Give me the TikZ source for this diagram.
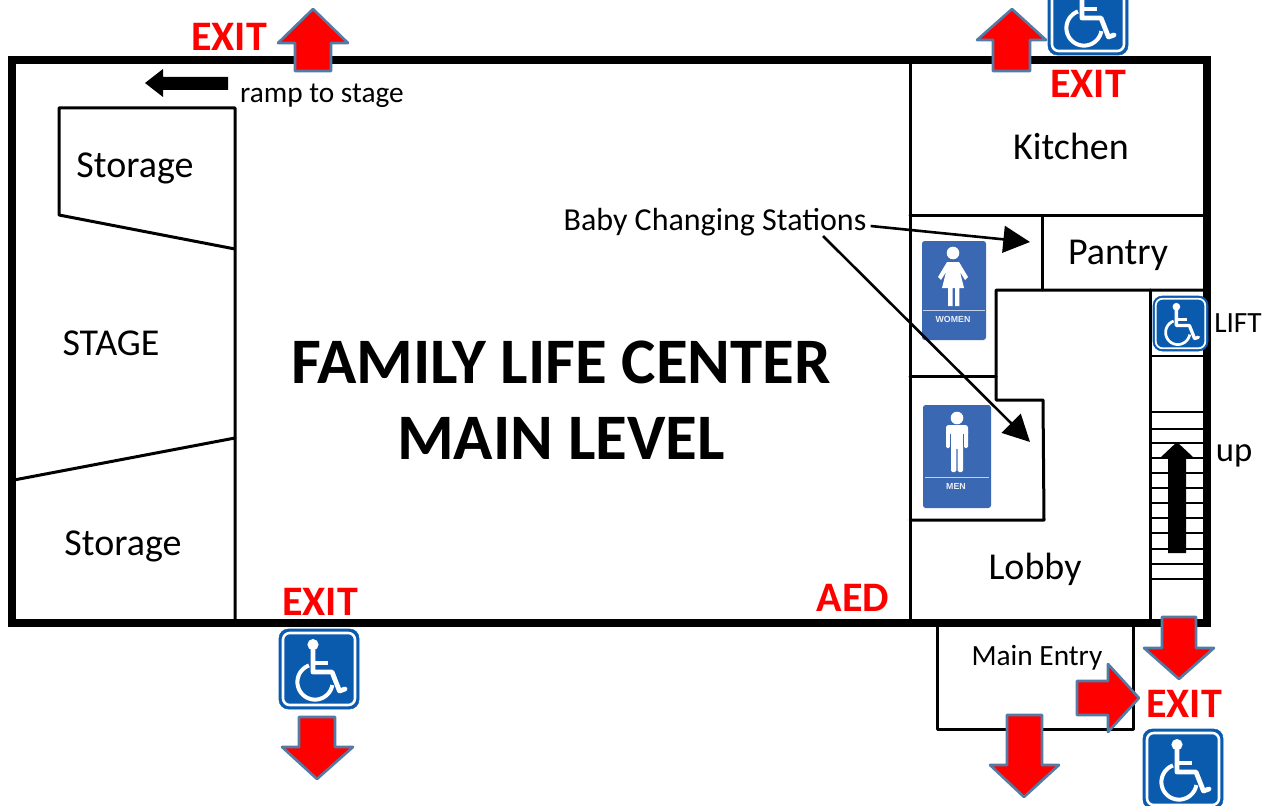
\documentclass[tikz,border=0pt]{standalone}
\usepackage{fontspec}
\setmainfont{Carlito}
\newfontfamily\signfont{Liberation Sans}
\usetikzlibrary{arrows.meta}
\definecolor{iconblue}{HTML}{0A5AAE}
\definecolor{signblue}{HTML}{3A68B2}
\definecolor{exitedge}{HTML}{527CA6}
\tikzset{
  wall/.style={draw=black,line width=8*0.75pt,line join=miter},
  inner/.style={draw=black,line width=3*0.75pt,line cap=round,line join=round},
  tread/.style={draw=black,line width=2.6*0.75pt},
  exitarrow/.style={fill=red,draw=exitedge,line width=2.6*0.75pt,line join=round},
  lbl/.style={inner sep=0pt,text=black,font=\fontsize{28.5}{32}\selectfont},
  small/.style={inner sep=0pt,text=black,font=\fontsize{22}{26}\selectfont},
  exitlbl/.style={inner sep=0pt,text=red,font=\fontsize{31.5}{36}\selectfont\bfseries},
  titlelbl/.style={inner sep=0pt,text=black,font=\fontsize{48.7}{54}\selectfont\bfseries},
  callout/.style={draw=black,line width=2.6*0.75pt,-{Triangle[length=20pt,width=20pt]}},
  signtxt/.style={inner sep=0pt,text=white!90!signblue,font=\fontsize{6.6}{8}\selectfont\signfont\bfseries},
}
% #1 left, #2 top, #3 size in px
\newcommand\wheelicon[3]{%
  \pgfmathsetmacro\wk{#3/80}%
  \begin{scope}[shift={(#1,#2)},scale=\wk]
    \fill[iconblue,draw=iconblue] (0,0) [rounded corners=7] rectangle (80,80);
    \draw[white,line width=\wk*1.9pt,rounded corners=5] (4,4) rectangle (76,76);
    \fill[white] (34,15.6) circle[radius=5.6];
    \draw[white,line width=\wk*3.6pt,line join=round,line cap=round]
      (34,16) -- (34,43) -- (53,43) -- (60.5,62) -- (66,60);
    \draw[white,line width=\wk*3.6pt] (34,34) -- (49,34);
    \draw[white,line width=\wk*3pt] plot[domain=110:350,samples=40,smooth] ({36+17.6*cos(\x)},{53-17.6*sin(\x)});
  \end{scope}}
\begin{document}
\begin{tikzpicture}[x=0.75pt,y=-0.75pt]
\useasboundingbox (0,0) rectangle (1278,806);
\clip (0,0) rectangle (1278,806);
% walls
\draw[wall] (12,60) rectangle (1207,623);
\draw[inner] (910,60) -- (910,622);
\draw[inner] (235,622) -- (235,108) -- (59,108) -- (59,215) -- (235,249);
\draw[inner] (14,480) -- (235,438);
\draw[inner] (910,216) -- (1205,216);
\draw[inner] (1042,216) -- (1042,290);
\draw[inner] (1205,290) -- (996,290) -- (996,400) -- (1043,400) -- (1044,520) -- (910,520);
\draw[inner] (910,376) -- (996,376);
\draw[inner] (1150,290) -- (1150,622);
\draw[inner] (937,626) -- (937,729) -- (1133,729) -- (1133,626);
\foreach \yy in {356,412,429,443,458,473,488,503,518,533,549,564,579}
  \draw[tread] (1150,\yy) -- (1205,\yy);
% black arrows
\fill[black] (1177,442) -- (1193,457) -- (1186,457) -- (1186,553) -- (1168,553) -- (1168,457) -- (1161,457) -- cycle;
\fill[black] (145,83) -- (163,69) -- (163,77) -- (228,77) -- (228,90) -- (163,90) -- (163,97) -- cycle;
% restroom signs
\fill[signblue,rounded corners=2] (922,241) rectangle (986,340);
\fill[white] (953,253) circle[radius=6.3];
\fill[white,line join=round] (947,262) -- (959,262) -- (968,277) -- (965,280) -- (960,272) -- (964,288) -- (959.3,288) -- (959.3,306) -- (955,306) -- (955,288) -- (952.5,288) -- (952.5,306) -- (948,306) -- (948,288) -- (942,288) -- (946,272) -- (941,280) -- (938,277) -- cycle;
\draw[white!70!signblue,line width=0.6pt] (923,310) -- (985,310);
\node[signtxt] (women) at (953,319) {WOMEN};
\fill[signblue,rounded corners=2] (923,405) rectangle (991,508);
\fill[white] (957,418) circle[radius=6.3];
\fill[white,rounded corners=2] (946,425) rectangle (968,436);
\fill[white] (950,428) rectangle (964,449);
\fill[white,rounded corners=1] (946,430) rectangle (950,448);
\fill[white,rounded corners=1] (964,430) rectangle (968,448);
\fill[white!0!signblue] (950,434) rectangle (951,449);
\fill[white!0!signblue] (963,434) rectangle (964,449);
\fill[white,rounded corners=1] (951,445) rectangle (956.3,472);
\fill[white,rounded corners=1] (957.7,445) rectangle (963,472);
\draw[white!70!signblue,line width=0.6pt] (925,477) -- (989,477);
\node[signtxt] (men) at (956,486) {MEN};
% labels
\node[lbl] (storage1) at (135,168) {Storage};
\node[lbl] (stage) at (111,343) {STAGE};
\node[lbl] (storage2) at (123,546) {Storage};
\node[lbl] (kitchen) at (1071,146) {Kitchen};
\node[lbl] (pantry) at (1118,255) {Pantry};
\node[lbl] (lobby) at (1035,569) {Lobby};
\node[small] (ramp) at (322,96) {ramp to stage};
\node[small] (entry) at (1037,658) {Main Entry};
\node[small] (lift) at (1238,323) {LIFT};
\node[lbl,font=\fontsize{26}{30}\selectfont] (up) at (1234,456) {up};
\node[titlelbl] (t1) at (561,362) {FAMILY LIFE CENTER};
\node[titlelbl] (t2) at (561,438) {MAIN LEVEL};
\node[exitlbl] (aed) at (853,598) {AED};
\node[exitlbl] (e1) at (229,37) {EXIT};
\node[exitlbl] (e2) at (1088,84) {EXIT};
\node[exitlbl] (e3) at (320,602) {EXIT};
\node[exitlbl] (e4) at (1184,704) {EXIT};
\node[small,font=\fontsize{24}{28}\selectfont] (baby) at (715,222) {Baby Changing Stations};
% callouts
\coordinate (womenend) at (1030,242);
\coordinate (menend) at (1030,442);
\coordinate (babyb) at (823,236);
\draw[callout] (baby.east) ++(4,4) -- (womenend);
\draw[callout] (babyb) -- (menend);
% exit arrows
\draw[exitarrow] (313,9) -- (348,43) -- (331,43) -- (331,71) -- (295,71) -- (295,43) -- (278,43) -- cycle;
\draw[exitarrow] (1012,9) -- (1046,40) -- (1030,40) -- (1030,71) -- (993,71) -- (993,40) -- (977,40) -- cycle;
\draw[exitarrow] (317,779) -- (353,747) -- (335,747) -- (335,717) -- (299,717) -- (299,747) -- (282,747) -- cycle;
\draw[exitarrow] (1179,679) -- (1214,648) -- (1196,648) -- (1196,617) -- (1162,617) -- (1162,648) -- (1144,648) -- cycle;
\draw[exitarrow] (1139,698) -- (1108,664) -- (1108,681) -- (1077,681) -- (1077,715) -- (1108,715) -- (1108,732) -- cycle;
\draw[exitarrow] (1024,797) -- (1059,765) -- (1042,765) -- (1042,715) -- (1007,715) -- (1007,765) -- (990,765) -- cycle;
% accessibility icons
\wheelicon{1048}{-25}{80}
\wheelicon{279}{629}{80}
\wheelicon{1143}{729}{80}
\wheelicon{1153}{296}{55}
\end{tikzpicture}
\end{document}
